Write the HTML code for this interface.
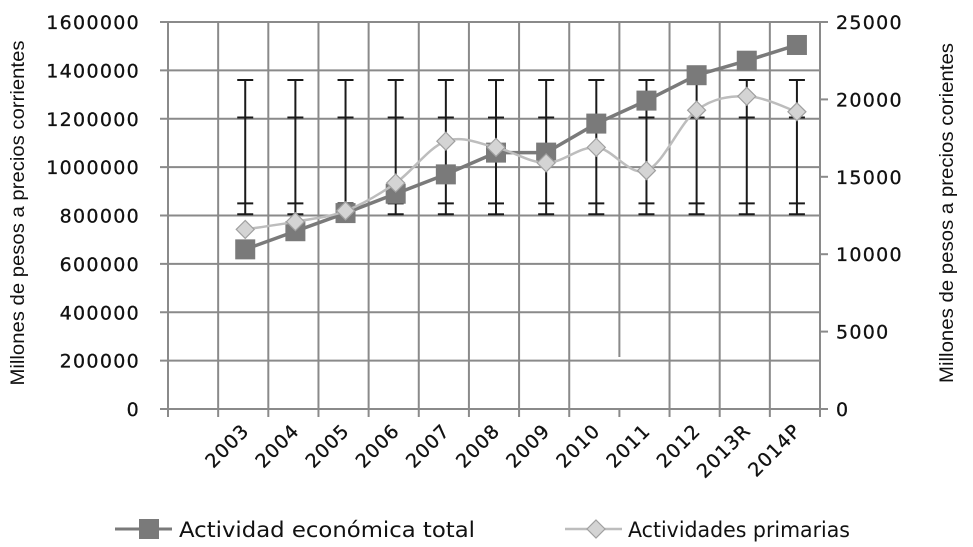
<!DOCTYPE html>
<html><head><meta charset="utf-8"><style>
html,body{margin:0;padding:0;background:#fff;}
svg{display:block;font-family:"DejaVu Sans","Liberation Sans",sans-serif;}
</style></head><body>
<svg id="chart" width="973" height="547" viewBox="0 0 973 547" xmlns="http://www.w3.org/2000/svg">
<g id="grid"></g>
<g id="axes"></g>
<g id="errbars"></g>
<g id="series"></g>
<text transform="translate(24,213) rotate(-90)" text-anchor="middle" font-family="Liberation Sans,sans-serif" font-size="19" fill="#111" textLength="345" lengthAdjust="spacingAndGlyphs">Millones de pesos  a precios corrientes</text>
<text transform="translate(953,213) rotate(-90)" text-anchor="middle" font-family="Liberation Sans,sans-serif" font-size="19" fill="#111" textLength="340" lengthAdjust="spacingAndGlyphs">Millones de pesos  a precios corientes</text>
<g>
 <g>
  <line x1="115" y1="529" x2="172" y2="529" stroke="#7a7a7a" stroke-width="3"/>
  <rect x="139" y="519" width="20" height="20" fill="#7a7a7a"/>
  <text x="179" y="537" font-size="21" fill="#111" textLength="296" lengthAdjust="spacingAndGlyphs">Actividad económica total</text>
 </g>
 <g>
  <line x1="565" y1="529" x2="622" y2="529" stroke="#bdbdbd" stroke-width="2.5"/>
  <path d="M596 520 L605 529 L596 538 L587 529 Z" fill="#d4d4d4" stroke="#a0a0a0" stroke-width="1.2"/>
  <text x="628" y="537" font-size="21" fill="#111" textLength="222" lengthAdjust="spacingAndGlyphs">Actividades primarias</text>
 </g>
</g>
</svg>
<script>
const categories = ["2003","2004","2005","2006","2007","2008","2009","2010","2011","2012","2013R","2014P"];
const totalValues = [660000,735000,810000,890000,970000,1060000,1060000,1180000,1275000,1380000,1440000,1505000];
const primariasValues = [11600,12100,12800,14600,17300,16900,15900,16900,15400,19300,20200,19200];
const leftTicks = [0,200000,400000,600000,800000,1000000,1200000,1400000,1600000];
const rightTicks = [0,5000,10000,15000,20000,25000];
const errTop = 1360000, errUpper = 1205000, errLower = 850000, errBottom = 805000;

const NS="http://www.w3.org/2000/svg";
const X0=168, X1=820, Y0=409, Y1=22, NSLOT=13;
const slotW=(X1-X0)/NSLOT;
const xPos=i=>X0+slotW*(i+1.5)+2;
const yL=v=>Y0-(v/1600000)*(Y0-Y1);
const yR=v=>Y0-(v/25000)*(Y0-Y1);
function mk(tag,attrs,parent){const e=document.createElementNS(NS,tag);for(const k in attrs)e.setAttribute(k,attrs[k]);parent.appendChild(e);return e;}
const grid=document.getElementById('grid'), axes=document.getElementById('axes'), eb=document.getElementById('errbars'), ser=document.getElementById('series');

leftTicks.forEach(t=>{
  const y=yL(t);
  const l=mk('line',{x1:X0-8,y1:y,x2:X1,y2:y,stroke:'#8a8a8a','stroke-width':2},grid);
  
  
  const tx=mk('text',{x:140,y:y+7,'text-anchor':'end','font-size':19,'letter-spacing':1.3,fill:'#111',stroke:'#111','stroke-width':0.3},axes);
  
  
  tx.textContent=t;
});
for(let i=0;i<=NSLOT;i++){
  const x=X0+slotW*i;
  const y2=(i===9)?357:Y0+8;
  const l=mk('line',{x1:x,y1:Y1,x2:x,y2:y2,stroke:'#8a8a8a','stroke-width':2},grid);
  
  
  if(i===9){const t=mk('line',{x1:x,y1:Y0,x2:x,y2:Y0+8,stroke:'#8a8a8a','stroke-width':2},grid);
    
    }
}
rightTicks.forEach(t=>{
  const y=yR(t);
  const l=mk('line',{x1:X1,y1:y,x2:X1+8,y2:y,stroke:'#8a8a8a','stroke-width':2},axes);
  
  
  const tx=mk('text',{x:836,y:y+7,'font-size':19,'letter-spacing':1.3,fill:'#111',stroke:'#111','stroke-width':0.3},axes);
  
  
  tx.textContent=t;
});
categories.forEach((c,i)=>{
  const x=xPos(i)+5;
  const tx=mk('text',{x:x,y:432,'text-anchor':'end','font-size':19,'letter-spacing':1,fill:'#111',stroke:'#111','stroke-width':0.3,transform:`rotate(-45 ${x} 432)`},axes);
  
  
  tx.textContent=c;
});
categories.forEach((c,i)=>{
  const x=xPos(i);
  const g=mk('g',{},eb);
  
  
  mk('line',{x1:x,y1:yL(errTop),x2:x,y2:yL(errBottom),stroke:'#1a1a1a','stroke-width':2},g);
  [errTop,errUpper,errLower,errBottom].forEach(v=>mk('line',{x1:x-8,y1:yL(v),x2:x+8,y2:yL(v),stroke:'#1a1a1a','stroke-width':2},g));
});
const pp=primariasValues.map((v,i)=>[xPos(i),yR(v)]);
let d=`M${pp[0][0]},${pp[0][1]}`;
for(let i=0;i<pp.length-1;i++){
  const p0=pp[Math.max(0,i-1)],p1=pp[i],p2=pp[i+1],p3=pp[Math.min(pp.length-1,i+2)];
  const t=0.17;
  d+=` C${p1[0]+(p2[0]-p0[0])*t},${p1[1]+(p2[1]-p0[1])*t} ${p2[0]-(p3[0]-p1[0])*t},${p2[1]-(p3[1]-p1[1])*t} ${p2[0]},${p2[1]}`;
}
const total=totalValues.map((v,i)=>`${xPos(i)},${yL(v)}`).join(' ');
const tl=mk('polyline',{points:total,fill:'none',stroke:'#7a7a7a','stroke-width':3.5},ser);


totalValues.forEach((v,i)=>{
  const r=mk('rect',{x:xPos(i)-10,y:yL(v)-10,width:20,height:20,fill:'#7a7a7a'},ser);
  
  
});
const pl=mk('path',{d:d,fill:'none',stroke:'#bdbdbd','stroke-width':2.5},ser);


pp.forEach(([x,y])=>{
  const m=mk('path',{d:`M${x} ${y-9} L${x+9} ${y} L${x} ${y+9} L${x-9} ${y} Z`,fill:'#d4d4d4',stroke:'#a0a0a0','stroke-width':1.2},ser);
  
  
});
</script>
</body></html>
